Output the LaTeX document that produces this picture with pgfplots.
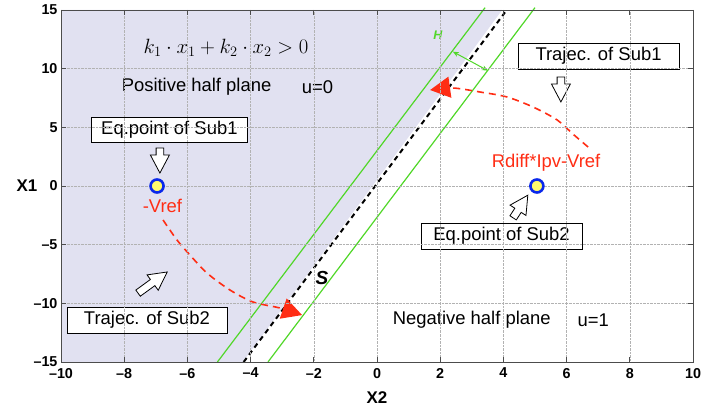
\documentclass[border=0pt]{standalone}
\usepackage{fontspec}
\setmainfont{Liberation Sans}[
  BoldFont=Liberation Sans Bold,
  ItalicFont=Liberation Sans Italic,
  BoldItalicFont=Liberation Sans Bold Italic]
\newfontfamily\bisans{Liberation Sans Bold Italic}
\newfontfamily\bsans{Liberation Sans Bold}[Ligatures=TeX]
\usepackage{pgfplots}
\pgfplotsset{compat=1.18}
\usetikzlibrary{arrows.meta}

\definecolor{posshade}{RGB}{225,225,241}
\definecolor{hgreen}{RGB}{80,215,40}
\definecolor{tred}{RGB}{255,45,20}
\definecolor{ringblue}{RGB}{10,40,235}
\definecolor{dotyellow}{RGB}{255,250,110}

% hollow block arrow: centre x, centre y, angle, half length
\newcommand\hollowarrow[4]{%
  \begin{scope}[shift={(axis cs:#1,#2)}, rotate=#3]
    \draw[line width=0.8bp, fill=white, line join=miter]
      (-#4,-3.8bp) -- (#4-18bp,-3.8bp) -- (#4-18bp,-9.5bp) -- (#4,0bp)
      -- (#4-18bp,9.5bp) -- (#4-18bp,3.8bp) -- (-#4,3.8bp) -- cycle;
  \end{scope}}

\newcommand\txt{\fontsize{18.5}{22}\selectfont}

\begin{document}
\begin{tikzpicture}
\begin{axis}[
  at={(0,0)}, anchor=south west,
  scale only axis, width=632bp, height=352bp,
  xmin=-10, xmax=10, ymin=-15, ymax=15,
  enlargelimits=false, clip=false, axis on top,
  xtick={-10,-8,...,10}, ytick={-15,-10,...,15},
  xticklabels={\textendash10,\textendash8,\textendash6,\textendash4,\textendash2,0,2,4,6,8,10},
  yticklabels={\textendash15,\textendash10,\textendash5,0,5,10,15},
  ticklabel style={font=\fontsize{14.4}{16}\bsans},
  xticklabel style={yshift=-2.5bp},
  grid=major,
  major grid style={densely dotted, black!30, line width=0.6bp},
  axis line style={black!70, line width=0.8bp},
  tick style={black!70, line width=0.8bp},
  major tick length=5bp,
  xlabel={X2}, ylabel={X1},
  label style={font=\fontsize{17}{20}\bsans},
  xlabel style={at={(axis description cs:0.5,-0.1023)}, anchor=center},
  ylabel style={rotate=-90, at={(axis description cs:-0.0538,0.5)}, anchor=center},
]
% positive half plane
\addplot[fill=posshade, draw=none] coordinates
  {(-10,-15) (-4.25,-15) (3.96,15) (-10,15)} -- cycle;

% hysteresis band and switching line
\addplot[hgreen, line width=1.2bp] coordinates {(-5.05,-15) (3.42,15.2)};
\addplot[hgreen, line width=1.2bp] coordinates {(-3.45,-15) (5.00,15.2)};
\addplot[black, line width=2bp, dash pattern=on 5bp off 4bp] coordinates {(-4.22,-15) (4.05,14.8)};
\addplot[hgreen, line width=1bp, {Stealth[length=6bp,width=5bp]}-{Stealth[length=6bp,width=5bp]}]
  coordinates {(2.40,11.45) (3.51,9.83)};

% trajectories
\addplot[tred, line width=1.6bp, dash pattern=on 7bp off 5bp, smooth,
  -{Triangle[length=20bp,width=21bp]}] coordinates
  {(-6.77,-2.9) (-6.33,-4.6) (-5.92,-5.88) (-5.38,-7.42) (-4.65,-8.87)
   (-3.92,-9.89) (-3.07,-10.4) (-2.37,-11.0)};
\addplot[tred, line width=1.6bp, dash pattern=on 7bp off 5bp, smooth,
  -{Triangle[length=20bp,width=21bp]}] coordinates
  {(6.68,3.32) (6.20,4.43) (5.70,5.63) (4.94,6.73) (4.11,7.59)
   (3.26,8.01) (2.41,8.35) (1.68,8.18)};

% equilibrium points
\addplot[only marks, mark=*, mark size=6.5bp,
  mark options={draw=ringblue, fill=dotyellow, line width=2.6bp}]
  coordinates {(-6.96,0) (5.06,0)};

% labels
\node[font=\fontsize{20.74}{24}\selectfont] at (axis cs:-4.78,11.76) {$k_1\cdot x_1+k_2\cdot x_2>0$};
\node[font=\txt] at (axis cs:-5.71,8.44) {Positive half plane};
\node[font=\txt] at (axis cs:-1.88,8.44) {u=0};
\node[font=\txt] at (axis cs:3.00,-11.42) {Negative half plane};
\node[font=\txt] at (axis cs:6.84,-11.42) {u=1};
\node[font=\txt, text=tred] at (axis cs:-6.79,-1.7) {-Vref};
\node[font=\txt, text=tred] at (axis cs:5.35,1.96) {Rdiff*Ipv-Vref};
\node[font=\fontsize{19}{21}\bisans] at (axis cs:-1.74,-7.84) {S};
\node[font=\fontsize{12.5}{14}\bisans, text=hgreen] at (axis cs:1.93,12.87) {H};

\node[draw, fill=white, line width=0.9bp, minimum width=156bp, minimum height=25bp, inner sep=0pt, font=\txt]
  at (axis cs:-6.57,4.77) {Eq.point of Sub1};
\node[draw, fill=white, line width=0.9bp, minimum width=161bp, minimum height=26bp, inner sep=0pt, font=\txt]
  at (axis cs:7.01,11.08) {Trajec. of Sub1};
\node[draw, fill=white, line width=0.9bp, minimum width=161bp, minimum height=26bp, inner sep=0pt, font=\txt]
  at (axis cs:3.94,-4.26) {Eq.point of Sub2};
\node[draw, fill=white, line width=0.9bp, minimum width=160bp, minimum height=26bp, inner sep=0pt, font=\txt]
  at (axis cs:-7.28,-11.42) {Trajec. of Sub2};

\hollowarrow{-6.87}{2.17}{-90}{12.5bp}
\hollowarrow{5.82}{8.23}{-90}{12.5bp}
\hollowarrow{4.54}{-1.75}{57}{13.5bp}
\hollowarrow{-7.10}{-8.23}{36}{18bp}
\end{axis}
\pgfresetboundingbox
\path (-61bp,-47bp) rectangle (641bp,362bp);
\end{tikzpicture}
\end{document}
